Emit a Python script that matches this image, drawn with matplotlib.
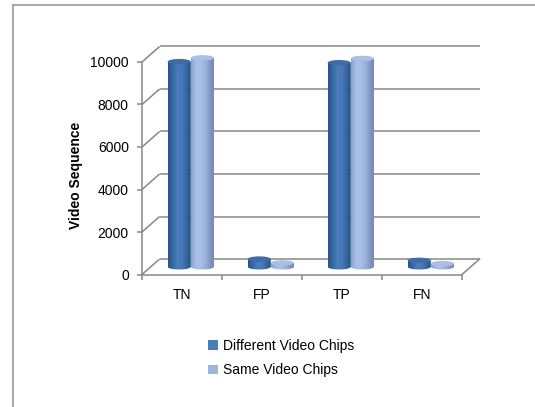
import numpy as np
import matplotlib
matplotlib.use("Agg")
import matplotlib.pyplot as plt
from matplotlib.colors import LinearSegmentedColormap
from matplotlib.patches import Ellipse, PathPatch, Patch
from matplotlib.path import Path
from matplotlib.lines import Line2D

plt.rcParams["font.family"] = ["Liberation Sans", "DejaVu Sans"]

categories = ["TN", "FP", "TP", "FN"]
different_chips = [9650, 360, 9600, 300]
same_chips = [9830, 180, 9800, 150]
series_names = ["Different Video Chips", "Same Video Chips"]
y_ticks = [0, 2000, 4000, 6000, 8000, 10000]

W, H, DPI = 535, 407, 100
fig = plt.figure(figsize=(W / DPI, H / DPI), dpi=DPI)

# front plane: x 0..4 -> 142..462 px, y 0..10000 -> 274.5..62 px
px_x = 80.0
px_y = 212.5 / 10000
xmax, ymax = 4.35, 10900
ax = fig.add_axes([142 / W, (H - 274.5) / H, xmax * px_x / W, ymax * px_y / H])

depth_x = 0.22                 # oblique depth offset (category units)
depth_y = 15.5 / px_y          # oblique depth offset (value units)
grid_c = "#878787"
grid_lw = 1.1
fs = 10

# walls: back grid lines + side diagonals
for v in y_ticks:
    ax.plot([0, depth_x], [v, v + depth_y], color=grid_c, lw=grid_lw, zorder=1,
            solid_capstyle="butt")
    ax.plot([depth_x, len(categories) + depth_x], [v + depth_y, v + depth_y],
            color=grid_c, lw=grid_lw, zorder=1, solid_capstyle="butt")
ax.plot([len(categories), len(categories) + depth_x], [0, depth_y],
        color=grid_c, lw=grid_lw, zorder=1)

# cylinders
bar_w = 0.29
ell_h = 5.5 / px_y
cmaps = [
    LinearSegmentedColormap.from_list(
        "dark", ["#2a5283", "#3a6aa6", "#4a7dbc", "#4677b5", "#36639d", "#27507f"]),
    LinearSegmentedColormap.from_list(
        "light", ["#8aa4cf", "#a6bee4", "#a9c0e5", "#9ab2db", "#8299c4", "#6d84ad"]),
]
top_colors = ["#3d6ca9", "#a9c0e4"]
grad = np.linspace(0, 1, 64).reshape(1, -1)

for s, values in reversed(list(enumerate([different_chips, same_chips]))):
    for i, v in enumerate(values):
        cx = i + 0.5 + (s - 0.5) * bar_w + depth_x / 2
        base = depth_y / 2
        top = base + v
        t = np.linspace(np.pi, 2 * np.pi, 40)
        verts = list(zip(cx + bar_w / 2 * np.cos(t), base + ell_h / 2 * np.sin(t)))
        verts += [(cx + bar_w / 2, top), (cx - bar_w / 2, top), verts[0]]
        codes = [Path.MOVETO] + [Path.LINETO] * (len(verts) - 2) + [Path.CLOSEPOLY]
        body = PathPatch(Path(verts, codes), facecolor="none", edgecolor="none")
        ax.add_patch(body)
        im = ax.imshow(grad, cmap=cmaps[s], aspect="auto", interpolation="bilinear",
                       extent=(cx - bar_w / 2, cx + bar_w / 2, base - ell_h, top),
                       zorder=3)
        im.set_clip_path(body)
        ax.add_patch(Ellipse((cx, top), bar_w, ell_h, facecolor=top_colors[s],
                             edgecolor="none", zorder=4))

ax.set_xlim(0, xmax)
ax.set_ylim(0, ymax)
ax.set_aspect("auto")

# axes
for side in ["top", "right"]:
    ax.spines[side].set_visible(False)
ax.spines["left"].set_bounds(0, 10000)
ax.spines["bottom"].set_bounds(0, len(categories))
for side in ["left", "bottom"]:
    ax.spines[side].set_color(grid_c)
    ax.spines[side].set_linewidth(grid_lw)
ax.set_yticks(y_ticks)
ax.set_yticklabels([str(v) for v in y_ticks])
ax.set_xticks(range(len(categories) + 1))
ax.set_xticklabels([""] * (len(categories) + 1))
ax.set_xticks(np.arange(len(categories)) + 0.5, minor=True)
ax.set_xticklabels(categories, minor=True)
ax.tick_params(axis="y", length=3.5, width=grid_lw, color=grid_c, pad=6,
               labelsize=fs, labelcolor="black")
ax.tick_params(axis="x", which="major", length=3.5, width=grid_lw, color=grid_c)
ax.tick_params(axis="x", which="minor", length=0, pad=10, labelsize=fs)
ax.set_ylabel("Video Sequence", fontsize=fs, fontweight="bold")
ax.yaxis.set_label_coords(-59 / (xmax * px_x), (274.5 - 175) / (ymax * px_y))

# legend
handles = [Patch(facecolor=c) for c in ["#4a7ebb", "#9cb5dd"]]
fig.legend(handles, series_names, loc="upper left",
           bbox_to_anchor=(208 / W, (H - 339) / H), frameon=False, fontsize=fs,
           handlelength=0.7, handleheight=0.7, handletextpad=0.35,
           labelspacing=0.75, borderpad=0, borderaxespad=0)

# chart area border (top and left edges visible)
fig.add_artist(Line2D([13 / W, 1], [1 - 5 / H, 1 - 5 / H], color="#9a9a9a", lw=1.2))
fig.add_artist(Line2D([13 / W, 13 / W], [0, 1 - 5 / H], color="#9a9a9a", lw=1.2))

fig.savefig("out.png", dpi=DPI)
